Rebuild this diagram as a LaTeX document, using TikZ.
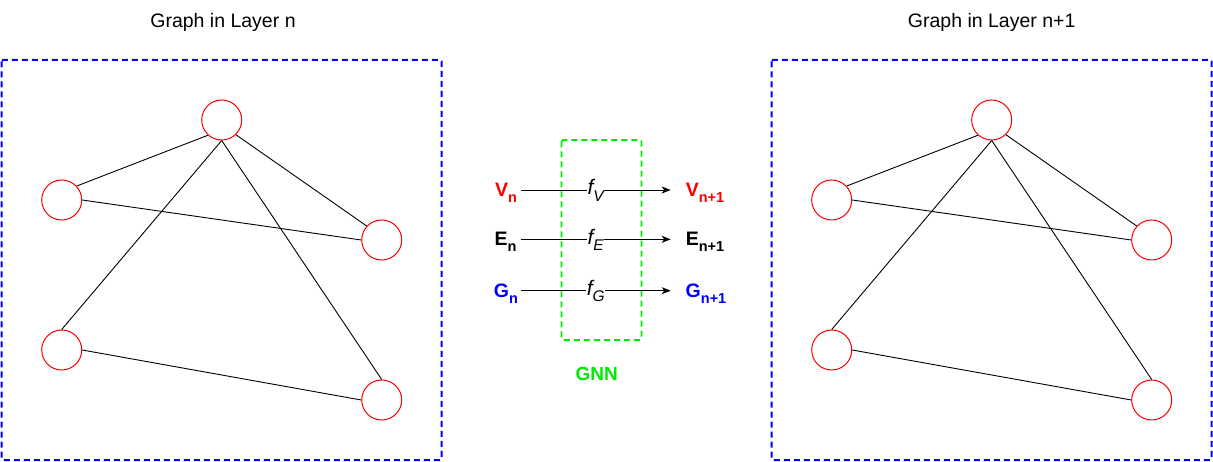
\documentclass[tikz,border=0pt]{standalone}
\usepackage{fontspec}
\setmainfont{Liberation Sans}
\usetikzlibrary{arrows.meta}
\definecolor{gblue}{RGB}{0,0,255}
\definecolor{gred}{RGB}{255,0,0}
\definecolor{ggreen}{RGB}{0,235,0}
\newcommand{\blab}[2]{{\fontsize{19.5}{21}\selectfont\bfseries #1\raisebox{-0.3em}{\fontsize{14.5}{15}\selectfont #2}}}
\newcommand{\flab}[2]{{\fontsize{21}{23}\selectfont\itshape #1\raisebox{-0.3em}{\fontsize{15.5}{16}\selectfont #2}}}
\begin{document}
\begin{tikzpicture}[x=1pt,y=-1pt,
  gnode/.style={circle,draw=gred,line width=1pt,minimum size=40pt,inner sep=0pt},
  gedge/.style={draw=black,line width=0.9pt},
  layerbox/.style={draw=gblue,line width=2pt,dash pattern=on 6pt off 4pt,rounded corners=1.5pt},
  gnnbox/.style={draw=ggreen,line width=1.8pt,dash pattern=on 6pt off 4pt,rounded corners=1.5pt},
  title/.style={font=\fontsize{19.5}{21}\selectfont,anchor=base},
  flow/.style={draw=black,line width=0.9pt,-{Stealth[length=9pt,width=7pt,inset=2.5pt]}},
  fl/.style={fill=white,inner sep=0.5pt,anchor=base,yshift=-5pt},
  lab/.style={anchor=base,inner sep=0pt}
]
\useasboundingbox (0,0) rectangle (1213,462);
% titles
\node[title] (t1) at (223,28) {Graph in Layer n};
\node[title] (t2) at (991.7,28) {Graph in Layer n+1};
% boxes
\draw[layerbox] (1.5,60) rectangle (441.7,460);
\draw[layerbox] (771.5,60) rectangle (1211.7,460);
\draw[gnnbox] (561.5,140) rectangle (641.5,340);
\node[text=ggreen,font=\fontsize{19}{20}\selectfont\bfseries,anchor=base] (gnn) at (596.7,380) {GNN};
% graphs
\foreach \p/\dx in {a/0,b/770}{
  \node[gnode] (\p t) at (221.7+\dx,120) {};
  \node[gnode] (\p lu) at (61.7+\dx,200) {};
  \node[gnode] (\p rm) at (381.7+\dx,240) {};
  \node[gnode] (\p ll) at (61.7+\dx,350) {};
  \node[gnode] (\p rl) at (381.7+\dx,400) {};
  \draw[gedge] (\p t.228) -- (\p lu.43);
  \draw[gedge] (\p t.314) -- (\p rm.137);
  \draw[gedge] (\p t.south) -- (\p ll.north);
  \draw[gedge] (\p t.south) -- (\p rl.north);
  \draw[gedge] (\p lu.east) -- (\p rm.west);
  \draw[gedge] (\p ll.east) -- (\p rl.west);
}
% middle labels
\node[lab,text=gred] (vn) at (506,196.7) {\blab{V}{n}};
\node[lab,text=gred] (vn1) at (705,196.7) {\blab{V}{n+1}};
\node[lab,text=black] (en) at (505.5,246) {\blab{E}{n}};
\node[lab,text=black] (en1) at (705,246) {\blab{E}{n+1}};
\node[lab,text=gblue] (gn) at (506,297.5) {\blab{G}{n}};
\node[lab,text=gblue] (gn1) at (706,297.5) {\blab{G}{n+1}};
\coordinate (vs) at (520.7,190);
\coordinate (ve) at (670.7,190);
\coordinate (es) at (520.7,239.3);
\coordinate (ee) at (670.7,239.3);
\coordinate (gs) at (520.7,290.7);
\coordinate (ge) at (670.7,290.7);
\draw[flow] (vs) -- node[fl] {\flab{f}{V}} (ve);
\draw[flow] (es) -- node[fl] {\flab{f}{E}} (ee);
\draw[flow] (gs) -- node[fl] {\flab{f}{G}} (ge);
\end{tikzpicture}
\end{document}
